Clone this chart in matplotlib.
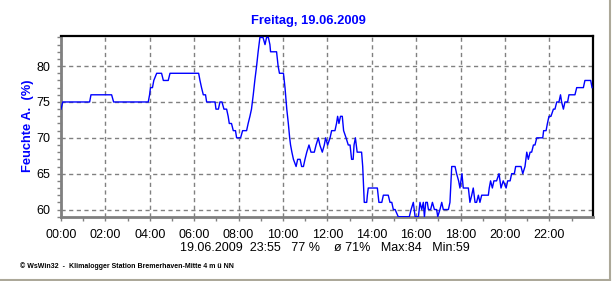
import matplotlib
matplotlib.use("Agg")
import matplotlib.pyplot as plt
from matplotlib.lines import Line2D
from matplotlib.ticker import MultipleLocator, FixedLocator

plt.rcParams['font.family'] = ['Liberation Sans', 'DejaVu Sans']

# Time (hours) and relative humidity (%)
hours = [
    0.00, 0.08, 1.29, 1.35, 2.28, 2.37, 3.93, 3.99, 4.03, 4.12, 4.18, 4.31, 4.53, 4.61, 4.83, 4.91,
    6.20, 6.26, 6.33, 6.41, 6.51, 6.56, 6.94, 6.98, 7.09, 7.16, 7.25, 7.34, 7.46, 7.53, 7.58, 7.68,
    7.76, 7.86, 7.91, 8.09, 8.18, 8.36, 8.43, 8.51, 8.58, 8.66, 8.73, 8.81, 8.88, 8.96, 9.04, 9.10,
    9.19, 9.26, 9.34, 9.41, 9.44, 9.71, 9.78, 9.84, 10.02, 10.09, 10.17, 10.24, 10.30,
    10.34, 10.40, 10.47, 10.59, 10.66, 10.77, 10.84, 10.92, 10.99, 11.07, 11.17, 11.26, 11.41,
    11.49, 11.59, 11.66, 11.77, 11.86, 11.92, 12.01, 12.12, 12.19, 12.34, 12.41, 12.46, 12.52,
    12.59, 12.67, 12.73, 12.84, 12.94, 13.02, 13.09, 13.16, 13.20, 13.26, 13.34, 13.54, 13.59,
    13.66, 13.77, 13.80, 13.84, 14.25, 14.32, 14.45, 14.52, 14.74, 14.82, 14.90, 14.97, 15.05,
    15.19, 15.69, 15.77, 15.87, 15.95, 16.10, 16.17, 16.25, 16.32, 16.37, 16.43, 16.50, 16.55,
    16.65, 16.73, 16.82, 16.92, 16.97, 17.07, 17.15, 17.22, 17.45, 17.52, 17.60, 17.75, 17.82,
    17.91, 17.97, 18.06, 18.12, 18.35, 18.42, 18.50, 18.57, 18.65, 18.72, 18.80, 18.87, 18.95,
    19.25, 19.29, 19.35, 19.43, 19.50, 19.62, 19.73, 19.82, 19.92, 20.05, 20.12, 20.23, 20.30,
    20.42, 20.48, 20.72, 20.80, 20.90, 20.98, 21.05, 21.13, 21.20, 21.28, 21.35, 21.43, 21.70,
    21.74, 21.85, 21.91, 21.98, 22.07, 22.18, 22.25, 22.33, 22.43, 22.50, 22.55, 22.63, 22.70,
    22.82, 22.88, 23.15, 23.23, 23.53, 23.60, 23.86, 23.92,
]
humidity = [
    74, 75, 75, 76, 76, 75, 75, 76, 77, 77, 78, 79, 79, 78, 78, 79,
    79, 78, 77, 76, 76, 75, 75, 74, 74, 75, 75, 74, 74, 73, 72, 72,
    71, 71, 70, 70, 71, 71, 72, 73, 74, 76, 78, 80, 82, 84, 84, 84,
    83, 84, 84, 83, 82, 82, 80, 79, 79, 77, 74, 72, 70,
    69, 68, 67, 66, 67, 67, 66, 66, 67, 68, 69, 68, 68,
    69, 70, 69, 68, 69, 70, 69, 70, 71, 71, 72, 73, 72,
    73, 73, 71, 70, 69, 69, 67, 67, 69, 70, 68, 68, 66,
    61, 61, 62, 63, 63, 61, 61, 62, 62, 61, 61, 60, 60,
    59, 59, 60, 61, 59, 59, 61, 60, 61, 59, 61, 61, 60,
    60, 61, 60, 60, 59, 60, 61, 60, 60, 61, 66, 66, 65,
    64, 63, 65, 63, 63, 61, 62, 63, 61, 61, 62, 61, 62,
    62, 63, 64, 63, 64, 64, 65, 63, 64, 63, 64, 64, 65,
    65, 66, 66, 65, 66, 68, 67, 68, 68, 69, 69, 70, 70,
    71, 71, 72, 73, 73, 74, 74, 75, 75, 76, 75, 74, 75,
    75, 76, 76, 77, 77, 78, 78, 77,
]

x_labels = ["00:00", "02:00", "04:00", "06:00", "08:00", "10:00",
            "12:00", "14:00", "16:00", "18:00", "20:00", "22:00"]
y_ticks = [60, 65, 70, 75, 80]

title = "Freitag, 19.06.2009"
ylabel = "Feuchte A.  (%)"
stats = "19.06.2009  23:55   77 %    ø 71%   Max:84   Min:59"
footer = "© WsWin32  -  Klimalogger Station Bremerhaven-Mitte 4 m ü NN"

W, H = 612, 281
fig = plt.figure(figsize=(W / 100, H / 100), dpi=100)
fig.patch.set_facecolor("white")

left, right, top, bottom = 61, 592.7, 36, 216.7
ax = fig.add_axes([left / W, 1 - bottom / H, (right - left) / W, (bottom - top) / H])

ax.plot(hours, humidity, color="#0000ff", lw=1.0, zorder=3)

ax.set_xlim(0, 23.95)
ax.set_ylim(59.0, 84.2)

ax.xaxis.set_major_locator(FixedLocator(list(range(0, 24, 2))))
ax.set_xticklabels(x_labels)
ax.xaxis.set_minor_locator(MultipleLocator(1))
ax.yaxis.set_major_locator(FixedLocator(y_ticks))
ax.yaxis.set_minor_locator(MultipleLocator(1))

ax.tick_params(axis="both", which="both", direction="out", color="#808080",
               length=3, width=1, labelsize=9, labelcolor="black")
ax.tick_params(axis="x", which="major", pad=6)
ax.tick_params(axis="y", which="major", pad=5)

ax.grid(True, which="major", color="#808080", lw=1, linestyle=(0, (3, 2.5)))

for s in ("left", "bottom"):
    ax.spines[s].set_color("#808080")
    ax.spines[s].set_linewidth(2)
for s in ("top", "right"):
    ax.spines[s].set_color("black")
    ax.spines[s].set_linewidth(1.6)

fig.text(308 / W, 1 - 21 / H, title, ha="center", va="center",
         color="#0000ff", fontsize=9.3, fontweight="bold")
fig.text(28.5 / W, 1 - 126 / H, ylabel, ha="center", va="center", rotation=90,
         color="#0000ff", fontsize=9.3, fontweight="bold")
fig.text(180 / W, 1 - 248 / H, stats, ha="left", va="center",
         color="black", fontsize=9)
fig.text(20 / W, 1 - 266 / H, footer, ha="left", va="center",
         color="black", fontsize=5.0, fontweight="bold")

# window frame lines
fig.add_artist(Line2D([0, 610 / W], [1 - 279.5 / H, 1 - 279.5 / H],
                      transform=fig.transFigure, color="#aca899", lw=1.5))
fig.add_artist(Line2D([610 / W, 610 / W], [1 - 279.5 / H, 1],
                      transform=fig.transFigure, color="#aca899", lw=1.5))

fig.savefig("out.png", dpi=100, facecolor="white")
